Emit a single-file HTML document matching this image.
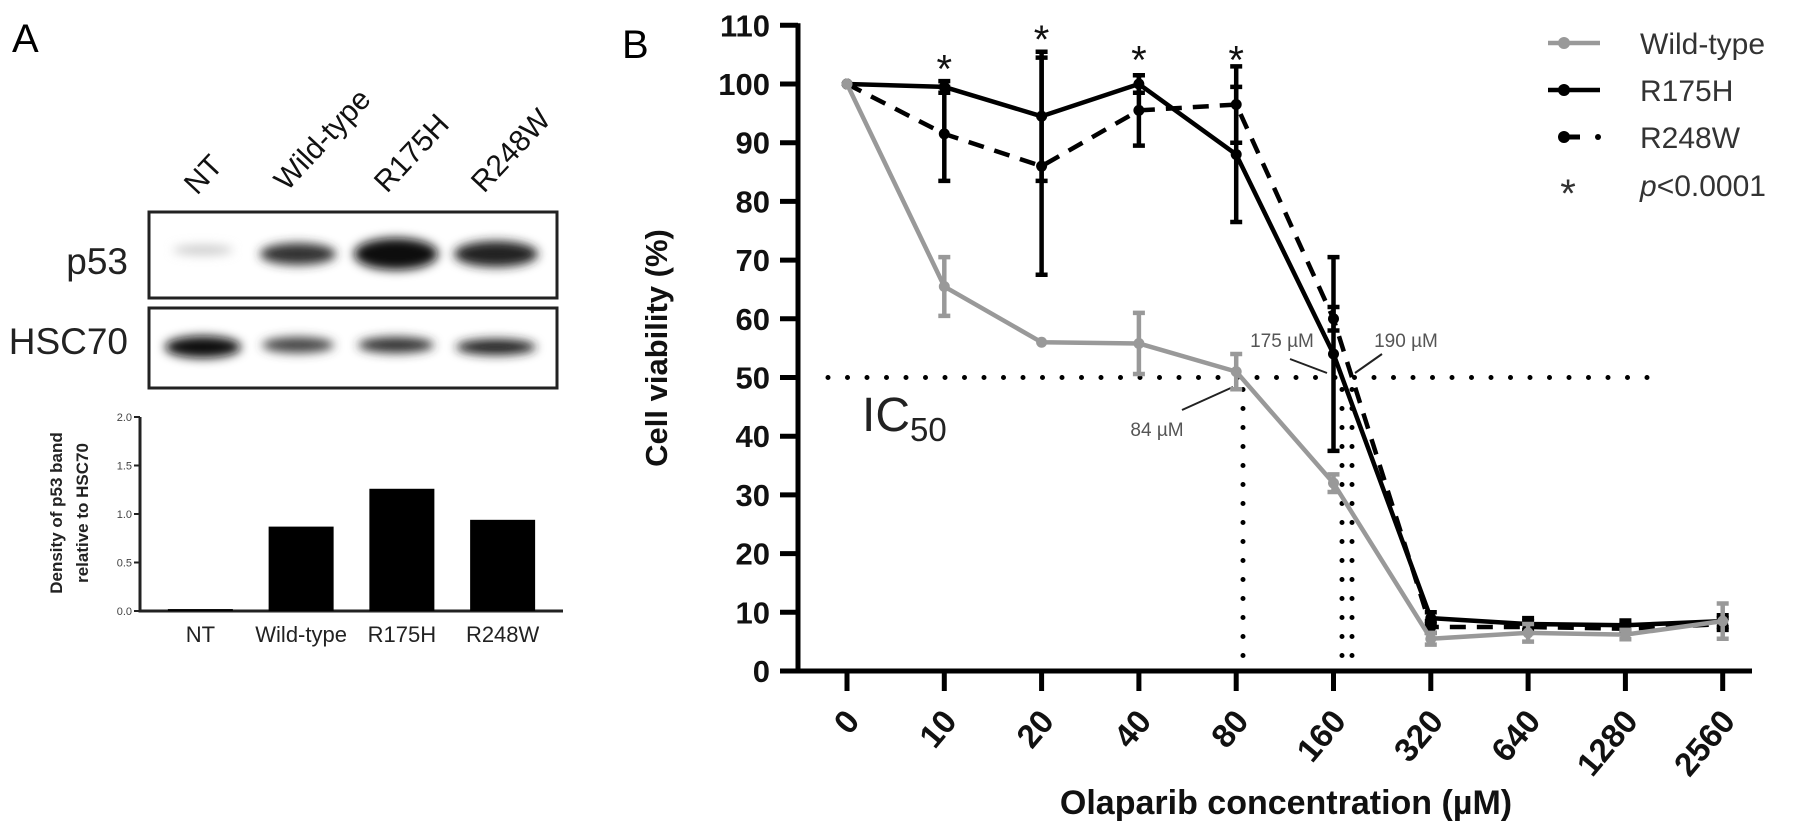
<!DOCTYPE html>
<html><head><meta charset="utf-8"><style>
html,body{margin:0;padding:0;background:#fff;}
svg{display:block;font-family:"Liberation Sans",Arial,sans-serif;}
</style></head><body>
<svg id="fig" width="1795" height="833" viewBox="0 0 1795 833">
<defs>
<filter id="blur" x="-30%" y="-80%" width="160%" height="260%"><feGaussianBlur stdDeviation="5"/></filter>
</defs>
<g>
<text x="12" y="52" font-size="40">A</text>
<g font-size="30" fill="#111">
<text transform="translate(197,196) rotate(-47)">NT</text>
<text transform="translate(287,192) rotate(-47)">Wild-type</text>
<text transform="translate(387,194) rotate(-47)">R175H</text>
<text transform="translate(484,194) rotate(-47)">R248W</text>
</g>
<text x="128" y="274" font-size="37" text-anchor="end" fill="#222">p53</text>
<text x="128" y="354" font-size="37" text-anchor="end" fill="#222">HSC70</text>
<g>
<rect x="149" y="212" width="408" height="86" fill="#fff" stroke="#222" stroke-width="3"/>
<g filter="url(#blur)">
<ellipse cx="203" cy="250" rx="30" ry="5" fill="#ccc"/>
<ellipse cx="298" cy="254" rx="38" ry="11" fill="#333"/>
<ellipse cx="396" cy="254" rx="42" ry="16" fill="#111"/>
<ellipse cx="496" cy="254" rx="42" ry="13" fill="#222"/>
</g></g>
<g>
<rect x="149" y="308" width="408" height="80" fill="#fff" stroke="#222" stroke-width="3"/>
<g filter="url(#blur)">
<ellipse cx="203" cy="347" rx="38" ry="11" fill="#111"/>
<ellipse cx="298" cy="345" rx="36" ry="8" fill="#444"/>
<ellipse cx="396" cy="345" rx="38" ry="8" fill="#333"/>
<ellipse cx="496" cy="347" rx="40" ry="8" fill="#222"/>
</g></g>
<g id="barChart"></g>
</g>
<g id="chartB">
<text x="622" y="58" font-size="40">B</text>
</g>
</svg>
<script>
var NS="http://www.w3.org/2000/svg";
function mk(parent,tag,attrs,txt){var e=document.createElementNS(NS,tag);for(var k in attrs)e.setAttribute(k,attrs[k]);if(txt!==undefined)e.textContent=txt;parent.appendChild(e);return e;}

/* ---- Panel A bar chart data ---- */
var barCategories=["NT","Wild-type","R175H","R248W"];
var barValues=[0.02,0.87,1.26,0.94];
var barTicks=["0.0","0.5","1.0","1.5","2.0"];

/* ---- Panel B data ---- */
var concCategories=["0","10","20","40","80","160","320","640","1280","2560"];
var yTickLabels=["0","10","20","30","40","50","60","70","80","90","100","110"];
var wtMean=[100,65.5,56,55.8,51,32,5.5,6.5,6.2,8.5];
var wtErr=[0,5,0,5.2,3,1.5,1,1.5,0.8,3];
var r175Mean=[100,99.5,94.5,100,88,54,9,8,7.8,8.5];
var r175Err=[0,1,11,1.5,11.5,16.5,1,1,0.8,1];
var r248Mean=[100,91.5,86,95.5,96.5,60,7.5,7.5,7.2,8];
var r248Err=[0,8,18.5,6,6.5,2,1,1,0.8,1];
var starCats=[1,2,3,4];
var ic50Labels=["84 µM","175 µM","190 µM"];

(function(){
 var g=document.getElementById('barChart');
 var x0=140,x1=563,y0=611,per=97;
 function by(v){return y0-v*per;}
 var slot=(x1-x0-20)/barCategories.length;
 function bx(i){return x0+10+slot*i+slot/2;}
 var ax=mk(g,'path',{d:'M'+x0+' '+by(2)+' V'+y0+' H'+x1,stroke:'#222','stroke-width':3,fill:'none'});
 
 
 barTicks.forEach(function(t){
  var v=parseFloat(t);
  var tk=mk(g,'line',{x1:x0-6,x2:x0,y1:by(v),y2:by(v),stroke:'#222','stroke-width':2});
  
  
  var tl=mk(g,'text',{x:x0-8,y:by(v)+4,'font-size':11,'text-anchor':'end',fill:'#444'},t);
  
  
 });
 barCategories.forEach(function(c,i){
  var w=65,v=barValues[i];
  var r=mk(g,'rect',{x:bx(i)-w/2,y:by(v),width:w,height:y0-by(v),fill:'#000'});
  
  
  var t=mk(g,'text',{x:bx(i),y:642,'font-size':22,'text-anchor':'middle',fill:'#222'},c);
  
  
 });
 var yt=mk(g,'text',{transform:'translate(62,513) rotate(-90)','font-size':17,'font-weight':'bold','text-anchor':'middle',fill:'#222'},'Density of p53 band');
 
 
 var yt2=mk(g,'text',{transform:'translate(88,513) rotate(-90)','font-size':17,'font-weight':'bold','text-anchor':'middle',fill:'#222'},'relative to HSC70');
 
 
})();

(function(){
 var g=document.getElementById('chartB');
 var axX=798,y0=671,perUnit=5.87,xStart=847,step=97.3;
 function Y(v){return y0-v*perUnit;}
 function X(i){return xStart+i*step;}
 var ya=mk(g,'line',{x1:axX,x2:axX,y1:Y(110)-2,y2:y0+2,stroke:'#000','stroke-width':5});
 
 
 var xa=mk(g,'line',{x1:axX-18,x2:1752,y1:y0,y2:y0,stroke:'#000','stroke-width':5});
 
 
 yTickLabels.forEach(function(t){
  var v=+t;
  var tk=mk(g,'line',{x1:axX-18,x2:axX,y1:Y(v),y2:Y(v),stroke:'#000','stroke-width':5});
  
  
  var tl=mk(g,'text',{x:770,y:Y(v)+11,'font-size':31,'font-weight':'bold','text-anchor':'end',fill:'#111'},t);
  
  
 });
 concCategories.forEach(function(c,i){
  var tk=mk(g,'line',{x1:X(i),x2:X(i),y1:y0,y2:y0+20,stroke:'#000','stroke-width':5});
  
  
  var tl=mk(g,'text',{transform:'translate('+(X(i)+14)+',722) rotate(-50)','font-size':33,'font-weight':'bold','text-anchor':'end',fill:'#111'},c);
  
  
 });
 var xt=mk(g,'text',{x:1286,y:814,'font-size':34,'font-weight':'bold','text-anchor':'middle',fill:'#111'},'Olaparib concentration (µM)');
 
 
 var ytl=mk(g,'text',{transform:'translate(667,348) rotate(-90)','font-size':31,'font-weight':'bold','text-anchor':'middle',fill:'#111'},'Cell viability (%)');
 
 

 var h=mk(g,'line',{x1:828,x2:1662,y1:Y(50),y2:Y(50),stroke:'#000','stroke-width':5,'stroke-dasharray':'0 19.5','stroke-linecap':'round'});
 
 
 [1243,1342,1352].forEach(function(xx){
  var v=mk(g,'line',{x1:xx,x2:xx,y1:Y(50)+12,y2:y0-4,stroke:'#000','stroke-width':5,'stroke-dasharray':'0 19','stroke-linecap':'round'});
  
  
 });
 var ic=mk(g,'text',{x:862,y:431,'font-size':48,fill:'#222'},'IC');
 
 
 var sub=mk(g,'tspan',{dy:10,'font-size':33},'50');ic.appendChild(sub);
 var a1=mk(g,'text',{x:1157,y:436,'font-size':19,'text-anchor':'middle',fill:'#555'},ic50Labels[0]);
 
 
 var a2=mk(g,'text',{x:1282,y:347,'font-size':19,'text-anchor':'middle',fill:'#555'},ic50Labels[1]);
 
 
 var a3=mk(g,'text',{x:1406,y:347,'font-size':19,'text-anchor':'middle',fill:'#555'},ic50Labels[2]);
 
 
 [[1182,410,1233,387],[1290,359,1327,373],[1382,354,1355,373]].forEach(function(p){
  var l=mk(g,'line',{x1:p[0],y1:p[1],x2:p[2],y2:p[3],stroke:'#222','stroke-width':2});
  
  
 });

 function series(name,mean,err,color,dash){
  var sg=mk(g,'g',{});
  
  
  var d=mean.map(function(v,i){return (i?'L':'M')+X(i)+' '+Y(v);}).join(' ');
  var p=mk(sg,'path',{d:d,fill:'none',stroke:color,'stroke-width':4.5,'stroke-dasharray':dash||'none','stroke-linejoin':'round'});
  
  
  mean.forEach(function(v,i){
   if(err[i]>0){
    var e=mk(sg,'path',{d:'M'+X(i)+' '+Y(v+err[i])+' V'+Y(v-err[i])+' M'+(X(i)-6)+' '+Y(v+err[i])+' h12 M'+(X(i)-6)+' '+Y(v-err[i])+' h12',stroke:color,'stroke-width':4.5,fill:'none'});
    
    
   }
   var c=mk(sg,'circle',{cx:X(i),cy:Y(v),r:5.5,fill:color});
   
   
  });
 }
 series('r248w',r248Mean,r248Err,'#000','16 11');
 series('r175h',r175Mean,r175Err,'#000');
 series('wild-type',wtMean,wtErr,'#999');
 var starY=[104,109,105.5,105.5];
 starCats.forEach(function(ci,k){
  var s=mk(g,'text',{x:X(ci),y:Y(starY[k])+22,'font-size':40,'text-anchor':'middle',fill:'#111'},'*');
  
  
 });

 var lg=mk(g,'g',{});
 
 
 var items=[['Wild-type','#999','none',43],['R175H','#000','none',90],['R248W','#000','dash',137]];
 items.forEach(function(it){
  var e=mk(lg,'g',{});
  
  
  if(it[2]==='dash'){
   mk(e,'line',{x1:1562,x2:1580,y1:it[3],y2:it[3],stroke:it[1],'stroke-width':5});
   mk(e,'circle',{cx:1598,cy:it[3],r:3,fill:it[1]});
  } else {
   mk(e,'line',{x1:1548,x2:1600,y1:it[3],y2:it[3],stroke:it[1],'stroke-width':4.5});
  }
  mk(e,'circle',{cx:1564,cy:it[3],r:6,fill:it[1]});
  mk(e,'text',{x:1640,y:it[3]+11,'font-size':30,fill:'#333'},it[0]);
 });
 var pe=mk(lg,'g',{});
 
 
 mk(pe,'text',{x:1568,y:207,'font-size':40,'text-anchor':'middle',fill:'#333'},'*');
 var pt=mk(pe,'text',{x:1640,y:196,'font-size':30,fill:'#333'},'');
 mk(pt,'tspan',{'font-style':'italic'},'p');
 mk(pt,'tspan',{},'<0.0001');
})();
</script>
</body></html>
